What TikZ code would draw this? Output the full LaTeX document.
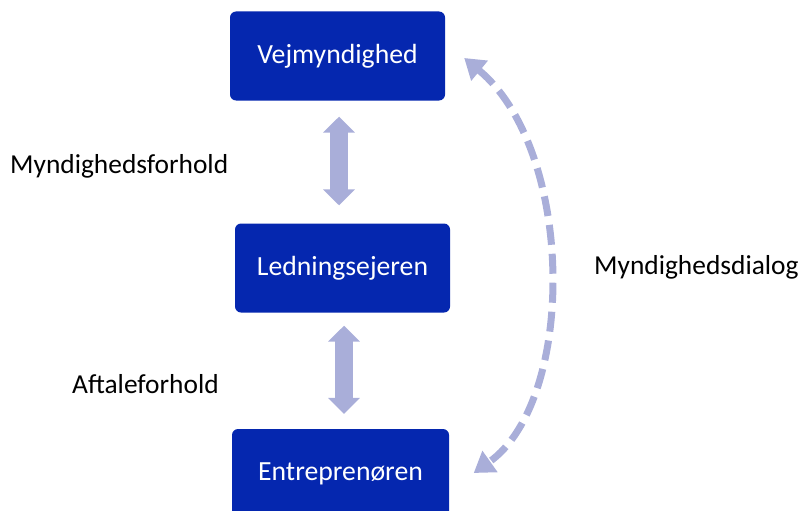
\documentclass[tikz,border=0pt]{standalone}
\usepackage{fontspec}
\setmainfont{Carlito}
\usetikzlibrary{arrows.meta,calc}
\definecolor{boxblue}{HTML}{0527AF}
\definecolor{arrowlav}{HTML}{A9AED9}
\tikzset{
  entity/.style={draw=none, fill=boxblue, rounded corners=6pt, minimum width=215pt, minimum height=89pt, text=white, font=\fontsize{27.7pt}{30pt}\selectfont, inner sep=0pt},
  relarrow/.style={draw=arrowlav, line width=18pt, {Triangle[width=31pt,length=16pt]}-{Triangle[width=31pt,length=16pt]}},
  dialogarrow/.style={draw=arrowlav, line width=7pt, dash pattern=on 20pt off 9pt, {Triangle[width=25pt,length=20pt]}-{Triangle[width=25pt,length=20pt]}},
  lbl/.style={text=black, font=\fontsize{27.4pt}{30pt}\selectfont, inner sep=0pt}
}
\begin{document}
\begin{tikzpicture}[x=1pt,y=-1pt]
\useasboundingbox (0,0) rectangle (800,511);
\begin{scope}
\clip (0,0) rectangle (800,511);
\node[entity] (v) at (337.5,56) {Vejmyndighed};
\node[entity] (l) at (342.5,268) {Ledningsejeren};
\node[entity, minimum width=217pt] (e) at (340.5,473.5) {Entreprenøren};
\end{scope}
\draw[relarrow] ($(v.south)+(1.5,16)$) -- ($(l.north)+(-3.5,-18)$);
\draw[relarrow] ($(l.south)+(1.5,13)$) -- ($(e.north)+(3.5,-15)$);
\coordinate (dtop) at ($(v.east)+(19,2)$);
\coordinate (dbot) at ($(e.east)+(24.5,-0.5)$);
\draw[dialogarrow] (dtop) .. controls ($(dtop)+(111,92)$) and ($(dbot)+(103,-73)$) .. (dbot);
\node[lbl, anchor=west] (mf) at (10,166) {Myndighedsforhold};
\node[lbl, anchor=west] (af) at (72,384) {Aftaleforhold};
\node[lbl, anchor=west] (md) at (594,267) {Myndighedsdialog};
\end{tikzpicture}
\end{document}
